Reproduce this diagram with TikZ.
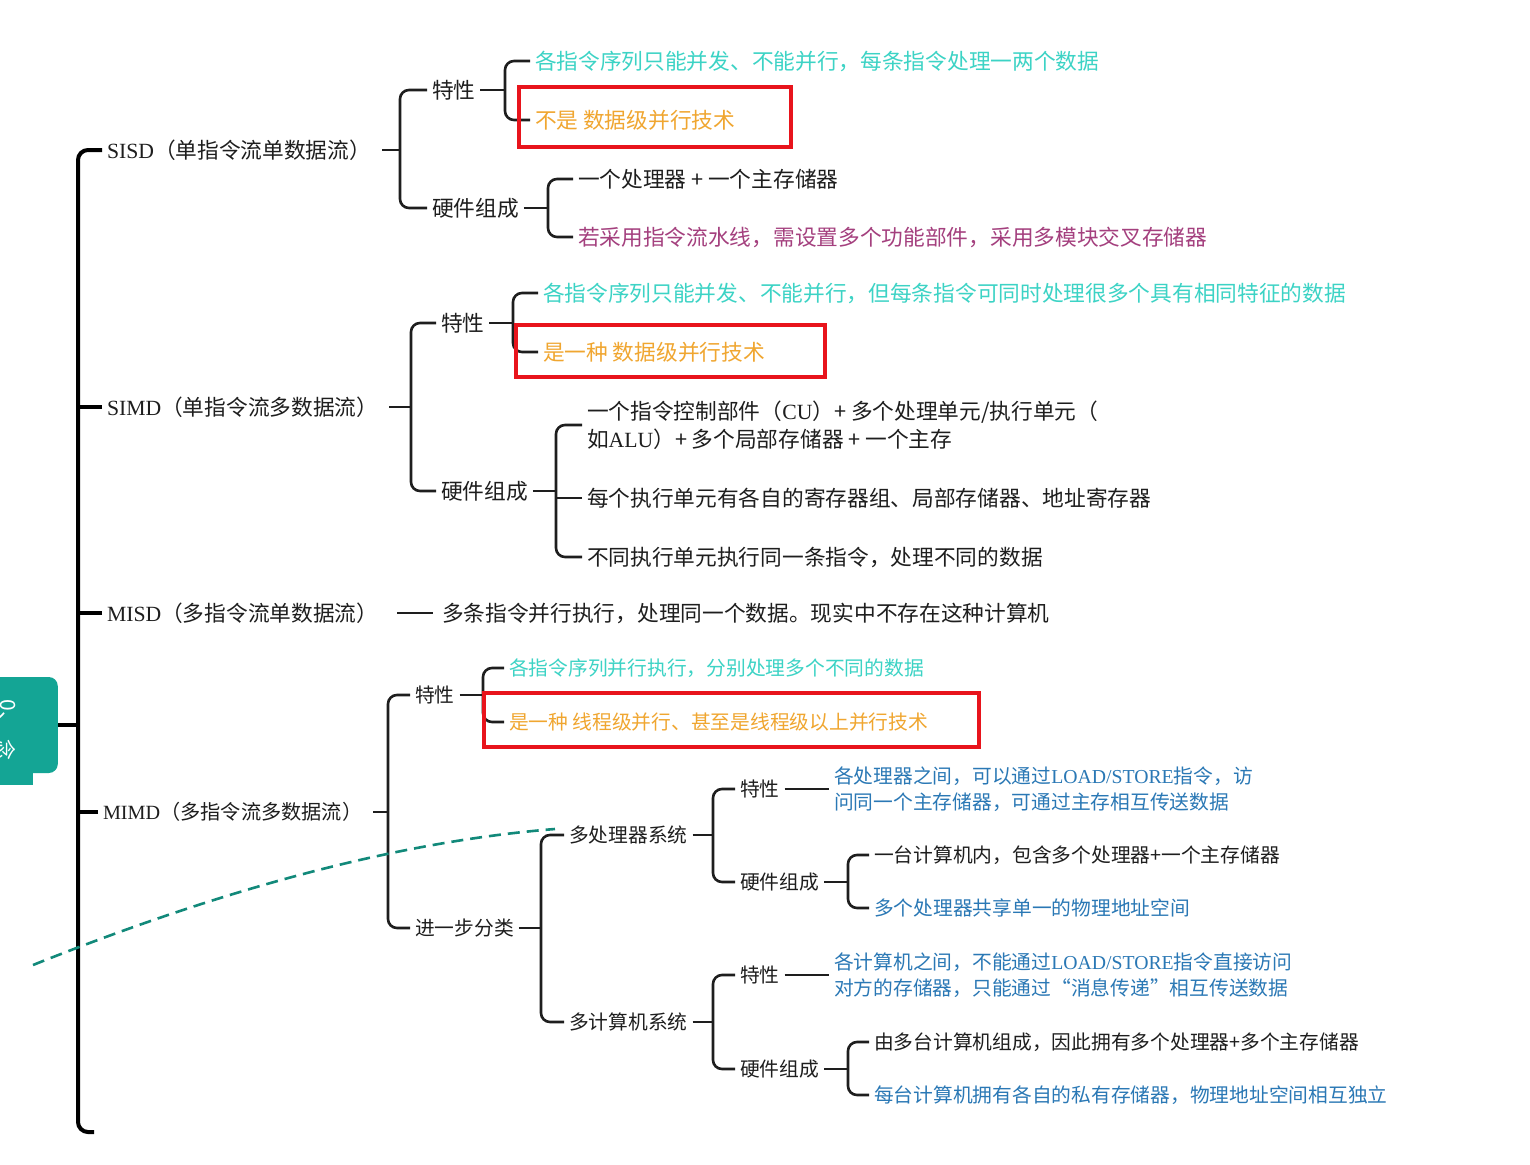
\documentclass[tikz,border=0pt]{standalone}
\usepackage{fontspec}
\setmainfont{Noto Sans CJK SC}
\newfontfamily\lat{Liberation Serif}
\usetikzlibrary{calc}
\definecolor{cyantxt}{HTML}{3CD3C5}
\definecolor{orangetxt}{HTML}{F0A630}
\definecolor{purpletxt}{HTML}{A4407E}
\definecolor{bluetxt}{HTML}{2A78B5}
\definecolor{blacktxt}{HTML}{1E1E1E}
\definecolor{redbox}{HTML}{E8141C}
\definecolor{tealbox}{HTML}{14A595}
\definecolor{dashteal}{HTML}{12897A}
\begin{document}
\begin{tikzpicture}[x=1pt,y=-1pt,
 lbl/.style={anchor=west, inner xsep=5pt, inner ysep=2pt, outer sep=0pt, text=blacktxt, font=\fontsize{21.7}{28}\selectfont, align=left},
 sm/.style={font=\fontsize{19.75}{26}\selectfont},
 br/.style={line width=2.6pt, draw=blacktxt, rounded corners=9pt},
 trunk/.style={line width=4pt, draw=black, rounded corners=10pt},
 hl/.style={draw=redbox, line width=4pt},
]
\fill[white] (0,0) rectangle (1530,1164);
\useasboundingbox (0,0) rectangle (1530,1164);

% root box (cut off at left)
\fill[tealbox] (-10,681) rectangle (33,785);
\node[fill=tealbox, rounded corners=9pt, anchor=east, minimum width=90pt, minimum height=96pt, inner sep=0pt] (root) at (58,725) {};
\node[text=white, font=\fontsize{21}{21}\selectfont, rotate=-90] (rootA) at (8,716) {0、};
\node[text=white, font=\fontsize{21}{21}\selectfont, rotate=-90] (rootB) at (6,750) {念};

% level 1
\node[lbl] (sisd) at (102,150) {{\lat SISD}（单指令流单数据流）};
\node[lbl] (simd) at (102,407) {{\lat SIMD}（单指令流多数据流）};
\node[lbl] (misd) at (102,613) {{\lat MISD}（多指令流单数据流）};
\node[lbl, font=\fontsize{20.2}{26}\selectfont] (mimd) at (98,812) {{\lat MIMD}（多指令流多数据流）};

\coordinate (tTop) at (78,150);
\coordinate (tEnd) at (94,1132);
\draw[trunk] (sisd.west) -- (sisd.west -| tTop) -- (tEnd -| tTop) -- (tEnd);
\draw[trunk] (simd.west) -- (simd.west -| tTop);
\draw[trunk] (misd.west) -- (misd.west -| tTop);
\draw[trunk] (mimd.west) -- (mimd.west -| tTop);
\draw[trunk] (root.east) -- (root.east -| tTop);

% SISD
\coordinate (b1) at (400,150);
\node[lbl] (s1t) at (427,90) {特性};
\node[lbl] (s1h) at (427,208) {硬件组成};
\draw[br, shorten <=6pt] (sisd.east) -- (b1);
\draw[br] (s1t.west) -- (s1t.west -| b1) -- (s1h.west -| b1) -- (s1h.west);

\coordinate (b2) at (505,90);
\node[lbl, text=cyantxt] (s1t1) at (530,61) {各指令序列只能并发、不能并行，每条指令处理一两个数据};
\node[lbl, text=orangetxt] (s1t2) at (530,120) {不是 数据级并行技术};
\draw[br] (s1t.east) -- (b2);
\draw[br] (s1t1.west) -- (s1t1.west -| b2) -- (s1t2.west -| b2) -- (s1t2.west);
\draw[hl] (519,87) rectangle (791,147);

\coordinate (b3) at (548,208);
\node[lbl] (s1h1) at (573,179) {一个处理器 + 一个主存储器};
\node[lbl, text=purpletxt] (s1h2) at (573,237) {若采用指令流水线，需设置多个功能部件，采用多模块交叉存储器};
\draw[br] (s1h.east) -- (b3);
\draw[br] (s1h1.west) -- (s1h1.west -| b3) -- (s1h2.west -| b3) -- (s1h2.west);

% SIMD
\coordinate (b4) at (411,407);
\node[lbl] (s2t) at (436,323) {特性};
\node[lbl] (s2h) at (436,491) {硬件组成};
\draw[br, shorten <=6pt] (simd.east) -- (b4);
\draw[br] (s2t.west) -- (s2t.west -| b4) -- (s2h.west -| b4) -- (s2h.west);

\coordinate (b5) at (513,323);
\node[lbl, text=cyantxt] (s2t1) at (538,293) {各指令序列只能并发、不能并行，但每条指令可同时处理很多个具有相同特征的数据};
\node[lbl, text=orangetxt] (s2t2) at (538,352) {是一种 数据级并行技术};
\draw[br] (s2t.east) -- (b5);
\draw[br] (s2t1.west) -- (s2t1.west -| b5) -- (s2t2.west -| b5) -- (s2t2.west);
\draw[hl] (516,325) rectangle (825,377);

\coordinate (b6) at (556,491);
\node[lbl] (s2h1) at (582,425) {一个指令控制部件（{\lat CU}）+ 多个处理单元/执行单元（\\如{\lat ALU}）+ 多个局部存储器 + 一个主存};
\node[lbl] (s2h2) at (582,498) {每个执行单元有各自的寄存器组、局部存储器、地址寄存器};
\node[lbl] (s2h3) at (582,557) {不同执行单元执行同一条指令，处理不同的数据};
\draw[br] (s2h.east) -- (b6);
\draw[br] (s2h1.west) -- (s2h1.west -| b6) -- (s2h3.west -| b6) -- (s2h3.west);
\draw[br] (s2h2.west) -- (s2h2.west -| b6);

% MISD
\node[lbl] (misd1) at (437,613) {多条指令并行执行，处理同一个数据。现实中不存在这种计算机};
\draw[br, shorten <=14pt, shorten >=4pt] (misd.east) -- (misd1.west);

% MIMD
\coordinate (b7) at (388,812);
\node[lbl, sm] (m1t) at (410,695) {特性};
\node[lbl, sm] (m1f) at (410,928) {进一步分类};
\draw[br, shorten <=6pt] (mimd.east) -- (b7);
\draw[br] (m1t.west) -- (m1t.west -| b7) -- (m1f.west -| b7) -- (m1f.west);

\coordinate (b8) at (483,695);
\node[lbl, sm, text=cyantxt] (m1t1) at (504,668) {各指令序列并行执行，分别处理多个不同的数据};
\node[lbl, sm, text=orangetxt] (m1t2) at (504,722) {是一种 线程级并行、甚至是线程级以上并行技术};
\draw[br] (m1t.east) -- (b8);
\draw[br] (m1t1.west) -- (m1t1.west -| b8) -- (m1t2.west -| b8) -- (m1t2.west);
\draw[hl] (484,693) rectangle (979,747);

\coordinate (b9) at (541,928);
\node[lbl, sm] (mp) at (564,835) {多处理器系统};
\node[lbl, sm] (mc) at (564,1022) {多计算机系统};
\draw[br] (m1f.east) -- (b9);
\draw[br] (mp.west) -- (mp.west -| b9) -- (mc.west -| b9) -- (mc.west);

\coordinate (b10) at (713,835);
\node[lbl, sm] (mpt) at (735,789) {特性};
\node[lbl, sm] (mph) at (735,882) {硬件组成};
\draw[br] (mp.east) -- (b10);
\draw[br] (mpt.west) -- (mpt.west -| b10) -- (mph.west -| b10) -- (mph.west);
\node[lbl, sm, text=bluetxt] (mpt1) at (829,789) {各处理器之间，可以通过{\lat LOAD/STORE}指令，访\\问同一个主存储器，可通过主存相互传送数据};
\draw[br] (mpt.east) -- (mpt1.west);

\coordinate (b11) at (848,882);
\node[lbl, sm] (mph1) at (869,855) {一台计算机内，包含多个处理器+一个主存储器};
\node[lbl, sm, text=bluetxt] (mph2) at (869,908) {多个处理器共享单一的物理地址空间};
\draw[br] (mph.east) -- (b11);
\draw[br] (mph1.west) -- (mph1.west -| b11) -- (mph2.west -| b11) -- (mph2.west);

\coordinate (b12) at (713,1022);
\node[lbl, sm] (mct) at (735,975) {特性};
\node[lbl, sm] (mch) at (735,1069) {硬件组成};
\draw[br] (mc.east) -- (b12);
\draw[br] (mct.west) -- (mct.west -| b12) -- (mch.west -| b12) -- (mch.west);
\node[lbl, sm, text=bluetxt] (mct1) at (829,975) {各计算机之间，不能通过{\lat LOAD/STORE}指令直接访问\\对方的存储器，只能通过“消息传递”相互传送数据};
\draw[br] (mct.east) -- (mct1.west);

\coordinate (b13) at (848,1069);
\node[lbl, sm] (mch1) at (869,1042) {由多台计算机组成，因此拥有多个处理器+多个主存储器};
\node[lbl, sm, text=bluetxt] (mch2) at (869,1095) {每台计算机拥有各自的私有存储器，物理地址空间相互独立};
\draw[br] (mch.east) -- (b13);
\draw[br] (mch1.west) -- (mch1.west -| b13) -- (mch2.west -| b13) -- (mch2.west);

% dashed annotation curve
\coordinate (dA) at (33,965);
\coordinate (dB) at (555,829);
\draw[dashteal, line width=2.6pt, dash pattern=on 12pt off 7pt] (dA) .. controls (233,885) and (405,841) .. (dB);
\end{tikzpicture}
\end{document}
